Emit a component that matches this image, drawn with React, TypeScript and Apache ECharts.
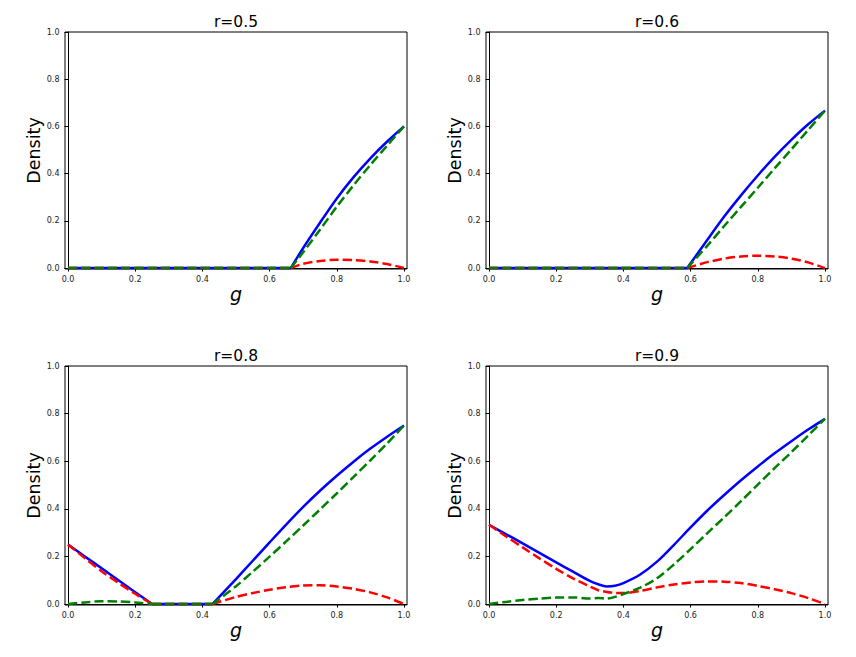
import React, { useEffect, useRef } from "react";
import * as echarts from "echarts";

const titles = ["r=0.5", "r=0.6", "r=0.8", "r=0.9"];
const xTicks = [0, 0.2, 0.4, 0.6, 0.8, 1.0];
const yTicks = [0, 0.2, 0.4, 0.6, 0.8, 1.0];

// r = 0.5  (kink after index 1)
const g1 = [0, 0.663, 0.7, 0.75, 0.8, 0.85, 0.9, 0.95, 1.0];
const blue1 = [0, 0, 0.085, 0.192, 0.295, 0.385, 0.465, 0.536, 0.6];
const red1 = [0, 0, 0.018, 0.03, 0.035, 0.034, 0.028, 0.017, 0];
const green1 = [0, 0, 0.067, 0.162, 0.26, 0.351, 0.437, 0.519, 0.6];
const kinks1 = [1];

// r = 0.6  (kink after index 1)
const g2 = [0, 0.59, 0.65, 0.7, 0.75, 0.8, 0.85, 0.9, 0.95, 1.0];
const blue2 = [0, 0, 0.12, 0.218, 0.308, 0.392, 0.471, 0.543, 0.609, 0.667];
const red2 = [0, 0, 0.025, 0.04, 0.049, 0.052, 0.049, 0.04, 0.024, 0];
const green2 = [0, 0, 0.095, 0.178, 0.259, 0.34, 0.422, 0.503, 0.585, 0.667];
const kinks2 = [1];

// r = 0.8  (kinks at g=0.25 and g=0.43)
const g3 = [0, 0.05, 0.1, 0.15, 0.2, 0.25, 0.43, 0.5, 0.55, 0.6, 0.65, 0.7, 0.75, 0.8, 0.85, 0.9, 0.95, 1.0];
const blue3 = [0.25, 0.2, 0.15, 0.1, 0.05, 0, 0, 0.105, 0.182, 0.259, 0.335, 0.408, 0.476, 0.539, 0.598, 0.653, 0.703, 0.75];
const red3 = [0.25, 0.193, 0.138, 0.089, 0.043, 0, 0, 0.03, 0.046, 0.06, 0.071, 0.078, 0.079, 0.074, 0.064, 0.049, 0.028, 0];
const green3 = [0, 0.007, 0.012, 0.011, 0.007, 0, 0, 0.075, 0.136, 0.199, 0.264, 0.33, 0.397, 0.465, 0.534, 0.604, 0.675, 0.75];
const kinks3 = [5, 6];

// r = 0.9  (smooth throughout)
const g4 = [0, 0.05, 0.1, 0.15, 0.2, 0.25, 0.3, 0.325, 0.35, 0.375, 0.4, 0.45, 0.5, 0.55, 0.6, 0.65, 0.7, 0.75, 0.8, 0.85, 0.9, 0.95, 1.0];
const blue4 = [0.333, 0.294, 0.255, 0.215, 0.175, 0.136, 0.097, 0.083, 0.074, 0.077, 0.088, 0.124, 0.178, 0.248, 0.322, 0.393, 0.458, 0.52, 0.578, 0.633, 0.684, 0.733, 0.778];
const red4 = [0.333, 0.285, 0.238, 0.192, 0.148, 0.108, 0.074, 0.058, 0.051, 0.047, 0.046, 0.055, 0.07, 0.082, 0.091, 0.095, 0.094, 0.088, 0.076, 0.062, 0.046, 0.025, 0];
const green4 = [0, 0.009, 0.017, 0.023, 0.027, 0.028, 0.023, 0.025, 0.023, 0.03, 0.042, 0.069, 0.108, 0.166, 0.231, 0.298, 0.364, 0.432, 0.502, 0.571, 0.638, 0.708, 0.778];
const kinks4: number[] = [];

const panels = [
  { g: g1, blue: blue1, red: red1, green: green1, kinks: kinks1 },
  { g: g2, blue: blue2, red: red2, green: green2, kinks: kinks2 },
  { g: g3, blue: blue3, red: red3, green: green3, kinks: kinks3 },
  { g: g4, blue: blue4, red: red4, green: green4, kinks: kinks4 },
];

const FONT = "DejaVu Sans";

// Build [g, v] pairs; at a kink the point is repeated with a null between,
// so the smoothed curve does not overshoot the corner.
function pairs(g: number[], v: number[], kinks: number[]) {
  const out: any[] = [];
  g.forEach((x, k) => {
    out.push([x, v[k]]);
    if (kinks.indexOf(k) >= 0) {
      out.push([x, null]);
      out.push([x, v[k]]);
    }
  });
  return out;
}

export default function App() {
  const ref = useRef<HTMLDivElement>(null);
  useEffect(() => {
    if (!ref.current) return;
    const chart = echarts.init(ref.current, undefined, { renderer: "svg" });
    const grids = [
      { left: 65, top: 32, width: 342, height: 237 },
      { left: 486, top: 32, width: 342, height: 237 },
      { left: 65, top: 366, width: 342, height: 239 },
      { left: 486, top: 366, width: 342, height: 239 },
    ];
    const xAxis: any[] = [];
    const yAxis: any[] = [];
    const series: any[] = [];
    const graphic: any[] = [];
    grids.forEach((gr, i) => {
      xAxis.push({
        type: "value",
        gridIndex: i,
        min: -0.009,
        max: 1.009,
        name: "g",
        nameLocation: "middle",
        nameGap: 15,
        nameTextStyle: { fontSize: 19, fontStyle: "italic", fontFamily: FONT, color: "#000" },
        axisLine: { show: true, lineStyle: { color: "#000", width: 1 } },
        axisTick: { show: true, length: 3.5, customValues: xTicks, lineStyle: { color: "#000", width: 1 } },
        axisLabel: {
          customValues: xTicks,
          formatter: (v: number) => v.toFixed(1),
          fontSize: 8,
          fontFamily: FONT,
          color: "#222",
          margin: 6,
        },
        splitLine: { show: false },
      });
      yAxis.push({
        type: "value",
        gridIndex: i,
        min: -0.004,
        max: 1.0,
        name: "Density",
        nameLocation: "middle",
        nameGap: 22,
        nameTextStyle: { fontSize: 17.5, fontFamily: FONT, color: "#000" },
        axisLine: { show: true, lineStyle: { color: "#000", width: 1 } },
        axisTick: { show: true, length: 3.5, customValues: yTicks, lineStyle: { color: "#000", width: 1 } },
        axisLabel: {
          customValues: yTicks,
          formatter: (v: number) => v.toFixed(1),
          fontSize: 8,
          fontFamily: FONT,
          color: "#222",
          margin: 5.5,
        },
        splitLine: { show: false },
      });
      const p = panels[i];
      const common = {
        type: "line",
        xAxisIndex: i,
        yAxisIndex: i,
        showSymbol: false,
        smooth: 0.3,
        connectNulls: false,
        clip: false,
      };
      series.push({
        ...common,
        data: pairs(p.g, p.blue, p.kinks),
        lineStyle: { color: "#0000ff", width: 2.5, type: "solid" },
        z: 2,
      });
      series.push({
        ...common,
        data: pairs(p.g, p.red, p.kinks),
        lineStyle: { color: "#ff0000", width: 2.5, type: [9.25, 4] },
        z: 3,
      });
      series.push({
        ...common,
        data: pairs(p.g, p.green, p.kinks),
        lineStyle: { color: "#008000", width: 2.5, type: [9.25, 4] },
        z: 4,
      });
      graphic.push({
        type: "text",
        x: gr.left + gr.width / 2,
        y: gr.top - 10.5,
        style: {
          text: titles[i],
          fontSize: 15.5,
          fontFamily: FONT,
          fill: "#000",
          align: "center",
          verticalAlign: "middle",
        },
      });
    });
    chart.setOption({
      animation: false,
      backgroundColor: "#fff",
      grid: grids.map((g) => ({ ...g, show: true, borderColor: "#000", borderWidth: 1, backgroundColor: "transparent" })),
      xAxis,
      yAxis,
      series,
      graphic,
    });
    return () => chart.dispose();
  }, []);
  return (
    <div
      ref={ref}
      style={{ position: "absolute", left: 0, top: 0, width: 856, height: 657, background: "#fff" }}
    />
  );
}
